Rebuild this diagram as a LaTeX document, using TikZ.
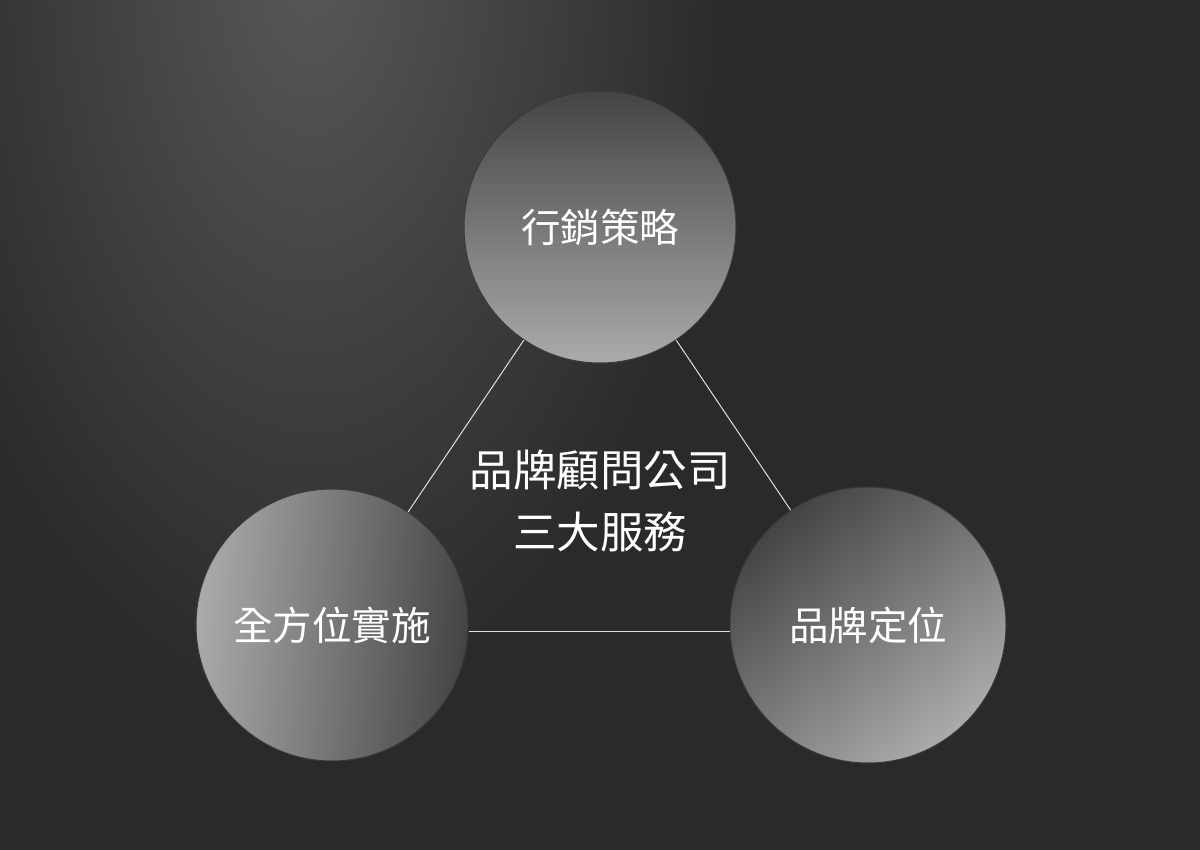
\documentclass[tikz,border=0pt]{standalone}
\usepackage{fontspec}
\newfontfamily\cjk{Noto Sans CJK TC}
\usetikzlibrary{positioning}

\definecolor{bgdark}{HTML}{2A2A2A}
\definecolor{glow}{HTML}{585858}
\definecolor{balldark}{HTML}{444444}
\definecolor{balllight}{HTML}{ABABAB}
\definecolor{rim}{HTML}{3A3A3A}

\begin{document}
\begin{tikzpicture}[x=1pt,y=-1pt,
  ball/.style={circle,minimum size=272pt,inner sep=0pt,draw=rim,line width=1pt,
    top color=balldark,bottom color=balllight,text=white,
    font=\cjk\fontsize{39.5}{46}\selectfont},
  link/.style={draw=white!88!black,line width=1pt}]
  % background, with the light falling in from the top left
  \fill[bgdark] (0,0) rectangle (1200,850);
  \begin{scope}
    \clip (0,0) rectangle (1200,850);
    \shade[inner color=glow,outer color=bgdark] (310,-40) ellipse (420 and 760);
  \end{scope}
  \useasboundingbox (0,0) rectangle (1200,850);

  % the three services
  \node[ball] (mkt) at (600,227) {行銷策略};
  \node[ball,shading angle=-95] (impl) at (332,625) {全方位實施};
  \node[ball,shading angle=40,minimum size=276pt] (brand) at (868,625) {品牌定位};

  % the title in the middle
  \node[text=white,align=center,font=\cjk\fontsize{43.5}{62}\selectfont] (title)
    at (600,501) {品牌顧問公司\\三大服務};

  % join them up
  \draw[link] (mkt) -- (impl);
  \draw[link] (mkt) -- (brand);
  \draw[link] ([yshift=-6pt]impl.east) -- ([yshift=-6pt]brand.west);
\end{tikzpicture}
\end{document}
